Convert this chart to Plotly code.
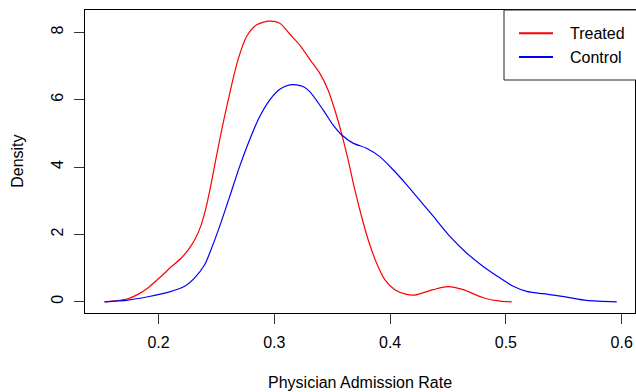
import plotly.graph_objects as go

# Kernel density estimates
treated_x = [0.1534, 0.1736, 0.1822, 0.1908, 0.2024, 0.2110, 0.2197, 0.2269, 0.2327, 0.2370,
             0.2413, 0.2450, 0.2528, 0.2615, 0.2686, 0.2759, 0.2845, 0.2960, 0.3047, 0.3133,
             0.3220, 0.3306, 0.3392, 0.3464, 0.3522, 0.3580, 0.3637, 0.3695, 0.3753, 0.3810,
             0.3882, 0.3954, 0.4041, 0.4142, 0.4213, 0.4372, 0.4501, 0.4631, 0.4804, 0.4948,
             0.5050]
treated_y = [0.00, 0.09, 0.22, 0.41, 0.76, 1.04, 1.30, 1.60, 1.94, 2.30,
             2.83, 3.43, 4.81, 6.19, 7.18, 7.87, 8.22, 8.33, 8.27, 7.95,
             7.62, 7.20, 6.79, 6.29, 5.70, 5.01, 4.22, 3.33, 2.54, 1.85,
             1.16, 0.66, 0.36, 0.22, 0.20, 0.36, 0.45, 0.36, 0.12, 0.02,
             0.00]

control_x = [0.1534, 0.1736, 0.1908, 0.2081, 0.2226, 0.2312, 0.2398, 0.2442, 0.2528, 0.2615,
             0.2701, 0.2787, 0.2874, 0.2960, 0.3047, 0.3133, 0.3191, 0.3248, 0.3306, 0.3421,
             0.3507, 0.3580, 0.3680, 0.3796, 0.3911, 0.4026, 0.4142, 0.4228, 0.4372, 0.4516,
             0.4660, 0.4804, 0.4948, 0.5063, 0.5179, 0.5322, 0.5525, 0.5697, 0.5957]
control_y = [0.00, 0.05, 0.15, 0.28, 0.46, 0.71, 1.10, 1.45, 2.24, 3.13,
             4.02, 4.81, 5.50, 5.99, 6.31, 6.44, 6.44, 6.39, 6.24, 5.70,
             5.25, 4.96, 4.71, 4.56, 4.31, 3.92, 3.48, 3.13, 2.54, 1.94,
             1.45, 1.05, 0.71, 0.46, 0.31, 0.24, 0.14, 0.04, 0.00]

x_ticks = [0.2, 0.3, 0.4, 0.5, 0.6]
y_ticks = [0, 2, 4, 6, 8]
series_names = ["Treated", "Control"]
series_colors = ["#FF0000", "#0000FF"]

FONT = "Liberation Sans, Arial, Helvetica, sans-serif"

fig = go.Figure()
for name, xs, ys, col in [(series_names[0], treated_x, treated_y, series_colors[0]),
                          (series_names[1], control_x, control_y, series_colors[1])]:
    fig.add_trace(go.Scatter(x=xs, y=ys, mode="lines", name=name,
                             line=dict(color=col, width=1.2, shape="spline", smoothing=0.8),
                             showlegend=False, hoverinfo="skip"))

W, H = 636, 392
L, R, T, B = 85, 1, 10, 79
pw, ph = W - L - R, H - T - B

def px_x(p):
    return (p - L) / pw

def px_y(p):
    return (H - B - p) / ph

fig.update_layout(
    width=W, height=H,
    margin=dict(l=L, r=R, t=T, b=B, pad=0),
    plot_bgcolor="white", paper_bgcolor="white",
    font=dict(family=FONT, size=16, color="black"),
    xaxis=dict(range=[0.1365, 0.6115], tickvals=x_ticks, ticktext=[str(v) for v in x_ticks],
               showgrid=False, zeroline=False, showline=True, linecolor="black", linewidth=1,
               mirror=True, ticks="outside", ticklen=10, tickwidth=1, tickcolor="#333333",
               ticklabelstandoff=5,
               tickfont=dict(size=16, family=FONT, color="black")),
    yaxis=dict(range=[-0.333, 8.663], tickvals=y_ticks, ticktext=[str(v) for v in y_ticks],
               showgrid=False, zeroline=False, showline=True, linecolor="black", linewidth=1,
               mirror=True, ticks="outside", ticklen=10, tickwidth=1, tickcolor="#333333",
               ticklabelstandoff=5,
               tickangle=-90, tickfont=dict(size=16, family=FONT, color="black")),
)

annotations = [
    dict(text="Physician Admission Rate", xref="paper", yref="paper", x=0.5, y=px_y(382),
         xanchor="center", yanchor="middle", showarrow=False, font=dict(size=16, family=FONT)),
    dict(text="Density", xref="paper", yref="paper", x=px_x(18), y=px_y(161.8), textangle=-90,
         xanchor="center", yanchor="middle", showarrow=False, font=dict(size=16, family=FONT)),
]
# legend (top-right, as in base R)
leg_rows = [33.3, 57.0]
for name, col, yy in zip(series_names, series_colors, leg_rows):
    annotations.append(dict(text=name, xref="paper", yref="paper", x=px_x(568), y=px_y(yy),
                            xanchor="left", yanchor="middle", showarrow=False,
                            font=dict(size=16, family=FONT)))
fig.update_layout(annotations=annotations)

shapes = [dict(type="rect", xref="paper", yref="paper", x0=px_x(504), x1=px_x(660),
               y0=px_y(80), y1=1, line=dict(color="#222222", width=1), fillcolor="white",
               layer="above")]
for col, yy in zip(series_colors, leg_rows):
    shapes.append(dict(type="line", xref="paper", yref="paper", x0=px_x(519), x1=px_x(553),
                       y0=px_y(yy), y1=px_y(yy), line=dict(color=col, width=2)))
fig.update_layout(shapes=shapes)

fig.write_html("out.html")
